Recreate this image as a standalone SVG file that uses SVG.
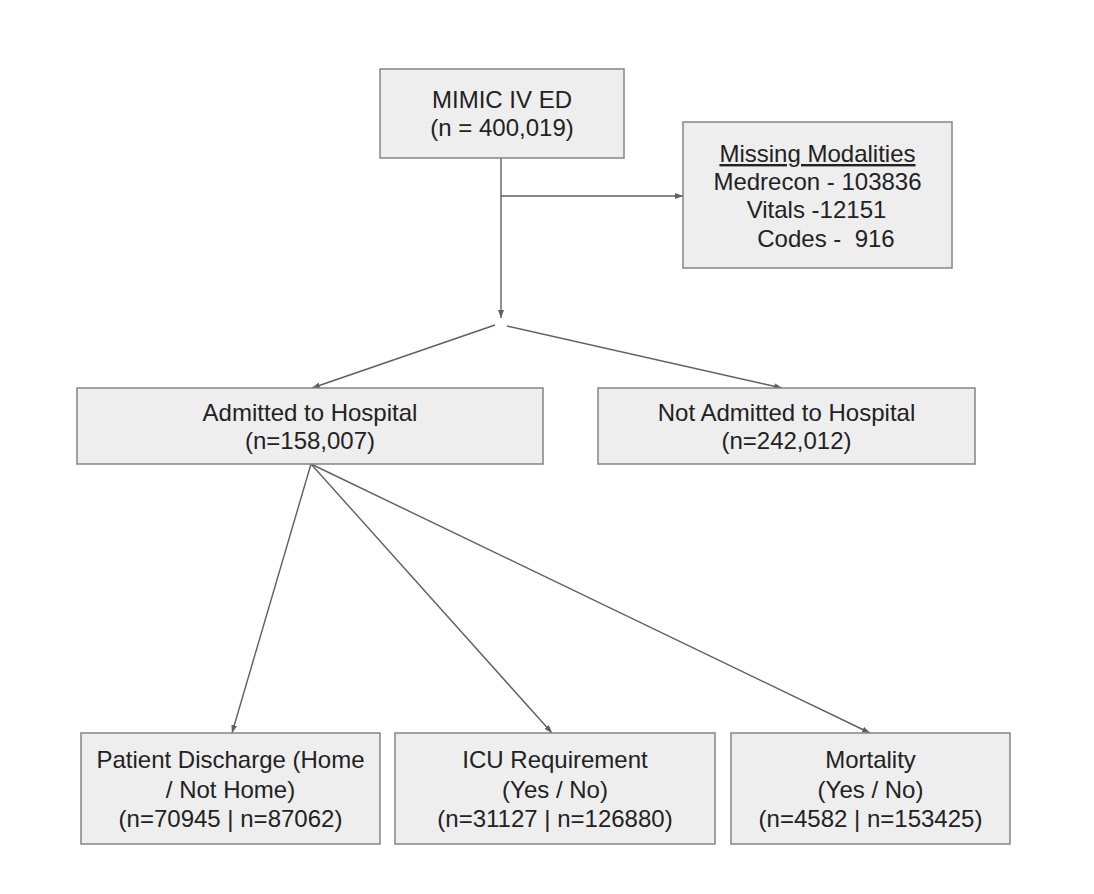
<svg xmlns="http://www.w3.org/2000/svg" width="1094" height="894" viewBox="0 0 1094 894">
<style>
.box{fill:#eeeeee;stroke:#858585;stroke-width:1.5}
.t{font-family:"Liberation Sans",Arial,sans-serif;font-size:24px;fill:#222222;text-anchor:middle}
.c{stroke:#5f5f5f;stroke-width:1.4;fill:none}
</style>
<defs>
<marker id="ah" viewBox="0 0 8 6" refX="8" refY="3" markerWidth="8" markerHeight="6" markerUnits="userSpaceOnUse" orient="auto">
<path d="M0,0 L8,3 L0,6 Z" fill="#5f5f5f"/>
</marker>
</defs>
<rect width="1094" height="894" fill="#ffffff"/>
<g id="connectors">
<line class="c" x1="501" y1="158" x2="501" y2="318" marker-end="url(#ah)"/>
<line class="c" x1="501" y1="196" x2="683" y2="196" marker-end="url(#ah)"/>
<line class="c" x1="495" y1="325" x2="312" y2="388" marker-end="url(#ah)"/>
<line class="c" x1="507" y1="326" x2="782" y2="388" marker-end="url(#ah)"/>
<line class="c" x1="311" y1="464" x2="232" y2="733" marker-end="url(#ah)"/>
<line class="c" x1="311" y1="464" x2="552" y2="733" marker-end="url(#ah)"/>
<line class="c" x1="311" y1="464" x2="870" y2="733" marker-end="url(#ah)"/>
</g>
<g id="mimic">
<rect class="box" x="380" y="69" width="244" height="89"/>
<text class="t" x="502" y="108">MIMIC IV ED</text>
<text class="t" x="502" y="136">(n = 400,019)</text>
</g>
<g id="missing">
<rect class="box" x="683" y="122" width="269" height="146"/>
<text class="t" x="817.5" y="162" text-decoration="underline">Missing Modalities</text>
<text class="t" x="817.5" y="190">Medrecon - 103836</text>
<text class="t" x="816.5" y="218">Vitals -12151</text>
<text class="t" x="826" y="247" xml:space="preserve">Codes -  916</text>
</g>
<g id="admitted">
<rect class="box" x="77" y="388" width="466" height="76"/>
<text class="t" x="310" y="421">Admitted to Hospital</text>
<text class="t" x="310" y="449">(n=158,007)</text>
</g>
<g id="not-admitted">
<rect class="box" x="598" y="388" width="377" height="76"/>
<text class="t" x="786.5" y="421">Not Admitted to Hospital</text>
<text class="t" x="786.5" y="449">(n=242,012)</text>
</g>
<g id="discharge">
<rect class="box" x="81" y="733" width="299" height="111"/>
<text class="t" x="230.5" y="768">Patient Discharge (Home</text>
<text class="t" x="230.5" y="798">/ Not Home)</text>
<text class="t" x="230.5" y="827">(n=70945 | n=87062)</text>
</g>
<g id="icu">
<rect class="box" x="395" y="733" width="320" height="111"/>
<text class="t" x="555" y="768">ICU Requirement</text>
<text class="t" x="555" y="798">(Yes / No)</text>
<text class="t" x="555" y="827">(n=31127 | n=126880)</text>
</g>
<g id="mortality">
<rect class="box" x="731" y="733" width="279" height="111"/>
<text class="t" x="870.5" y="768">Mortality</text>
<text class="t" x="870.5" y="798">(Yes / No)</text>
<text class="t" x="870.5" y="827">(n=4582 | n=153425)</text>
</g>
</svg>
